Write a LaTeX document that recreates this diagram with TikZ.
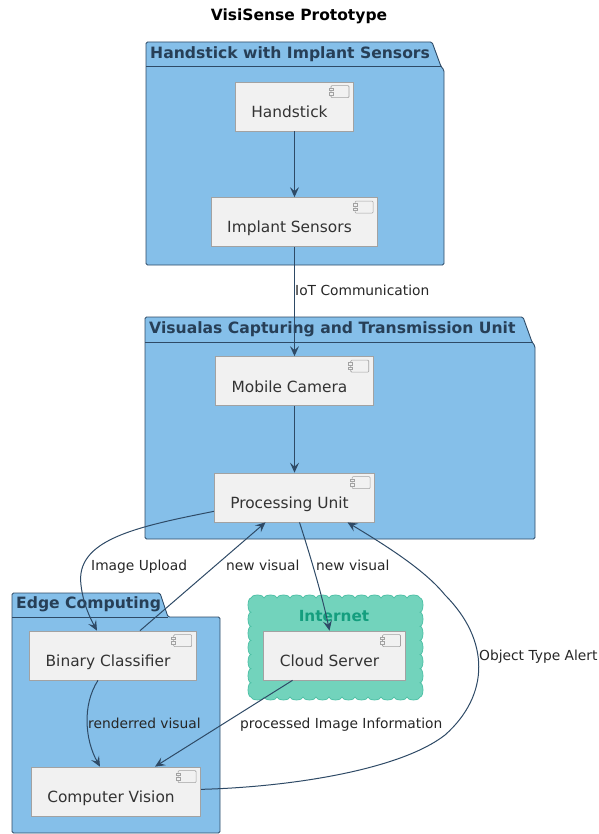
\documentclass[tikz,border=0pt]{standalone}
\usepackage{fontspec}
\setmainfont{DejaVu Sans}
\usetikzlibrary{arrows.meta,calc}
\definecolor{pkgblue}{HTML}{85BFE9}
\definecolor{pkgline}{HTML}{2E4A66}
\definecolor{cloudfill}{HTML}{72D3BC}
\definecolor{cloudline}{HTML}{4CBFA4}
\definecolor{cloudtext}{HTML}{149E7E}
\definecolor{compfill}{HTML}{F1F1F1}
\definecolor{compline}{HTML}{A2A2A2}
\tikzstyle{pkg} = [draw=pkgline, fill=pkgblue, line width=0.9pt, rounded corners=1.5pt]
\tikzstyle{pkgtitle} = [anchor=base west, inner sep=0pt, text=pkgline!85!black, font={\fontsize{15.6}{18}\selectfont\bfseries}]
\tikzstyle{comp} = [draw=compline, fill=compfill, line width=0.7pt, inner ysep=0pt, inner xsep=16pt, text height=35.5pt, text depth=13.5pt, text=black!80, font={\fontsize{15.4}{18}\selectfont}, execute at end node={\hspace*{10pt}}]
\tikzstyle{compicon} = [draw=compline, fill=compfill, line width=0.6pt]
\tikzstyle{flow} = [draw=pkgline, line width=1pt, -{Stealth[length=10pt,width=9pt,inset=4pt]}]
\tikzstyle{lbl} = [anchor=base west, inner sep=0pt, text=black!85, font={\fontsize{13.8}{16}\selectfont}]
\begin{document}
\begin{tikzpicture}[x=1pt,y=-1pt]
    \useasboundingbox (0,0) rectangle (598,834);
    \node[anchor=base, inner sep=0pt, font={\fontsize{15.5}{18}\selectfont\bfseries}](title) at (299,21){VisiSense Prototype};

    % packages
    \draw[pkg] (146,66.5)--(146,42)--(432,42)--(441,66.5)--(444,70)--(444,265)--(146,265)--cycle;
    \draw[pkgline, line width=0.9pt] (146,66.5)--(441,66.5);
    \node[pkgtitle](handtitle) at (150,58.5){Handstick with Implant Sensors};
    \draw[pkg] (145,342)--(145,317)--(523,317)--(532,342)--(535,346)--(535,539)--(145,539)--cycle;
    \draw[pkgline, line width=0.9pt] (145,342)--(532,342);
    \node[pkgtitle](vistitle) at (149,333.5){Visualas Capturing and Transmission Unit};
    \draw[pkg] (12,617)--(12,593)--(160,593)--(168,617)--(220,617)--(220,833)--(12,833)--cycle;
    \draw[pkgline, line width=0.9pt] (12,617)--(168,617);
    \node[pkgtitle](edgetitle) at (16,608.5){Edge Computing};

    % internet cloud
    \draw[draw=cloudline, fill=cloudfill, line width=0.7pt] (251,598)
        \foreach \i in {1,...,13}{ arc[start angle=180,end angle=360,x radius=6.5,y radius=3] }
        \foreach \i in {1,...,7}{ arc[start angle=270,end angle=450,x radius=3,y radius=7.07] }
        \foreach \i in {1,...,13}{ arc[start angle=0,end angle=180,x radius=6.5,y radius=3] }
        \foreach \i in {1,...,7}{ arc[start angle=90,end angle=270,x radius=3,y radius=7.07] }
        -- cycle;
    \node[anchor=base, inner sep=0pt, text=cloudtext, font={\fontsize{15.3}{18}\selectfont\bfseries}](nettitle) at (334,621){Internet};

    % components
    \node[comp](hand) at (294.5,106.5){Handstick};
    \node[comp](implant) at (294.5,222){Implant Sensors};
    \node[comp](camera) at (294.5,381){Mobile Camera};
    \node[comp](proc) at (294.5,497.5){Processing Unit};
    \node[comp](binary) at (113,655.5){Binary Classifier};
    \node[comp](vision) at (116,791.5){Computer Vision};
    \node[comp](cloud) at (334.5,655.5){Cloud Server};
    \foreach \n in {hand,implant,camera,proc,binary,vision,cloud}{
      \draw[compicon,rounded corners=1pt] ($(\n.north east)+(-23,4)$) rectangle ($(\n.north east)+(-5,16)$);
      \draw[compicon] ($(\n.north east)+(-25,6.5)$) rectangle ($(\n.north east)+(-21,9)$);
      \draw[compicon] ($(\n.north east)+(-25,11)$) rectangle ($(\n.north east)+(-21,13.5)$);
    }

    % connectors
    \draw[flow] (hand.south)--(implant.north);
    \draw[flow] (implant.south)--(camera.north);
    \draw[flow] (camera.south)--(proc.north);
    \draw[flow] ([yshift=11pt]proc.south west) .. controls (135,527) and (75,540) .. (81,585) .. controls (83,603) and (90,618) .. ([xshift=-16pt]binary.north);
    \draw[flow] ([xshift=27pt]binary.north)--([xshift=-29pt]proc.south);
    \draw[flow] ([xshift=5pt]proc.south) .. controls (310,555) and (322,595) .. ([xshift=-5pt]cloud.north);
    \draw[flow] ([xshift=-42pt]cloud.south)--([xshift=39pt]vision.north);
    \draw[flow] ([xshift=-15pt]binary.south) .. controls (82,705) and (85,740) .. ([xshift=-16pt]vision.north);
    \draw[flow] ([yshift=27pt]vision.south east) .. controls (290,787) and (400,770) .. (445,735) .. controls (490,695) and (490,640) .. (445,595) .. controls (425,570) and (385,545) .. ([xshift=53pt]proc.south);

    % labels
    \node[lbl](lblhand) at (295,295){IoT Communication};
    \node[lbl](lblupload) at (91,570){Image Upload};
    \node[lbl](lblnewa) at (226,570){new visual};
    \node[lbl](lblnewb) at (316,570){new visual};
    \node[lbl](lblalert) at (479,660){Object Type Alert};
    \node[lbl](lblrender) at (88,728){renderred visual};
    \node[lbl](lblinfo) at (240,728){processed Image Information};
\end{tikzpicture}
\end{document}
